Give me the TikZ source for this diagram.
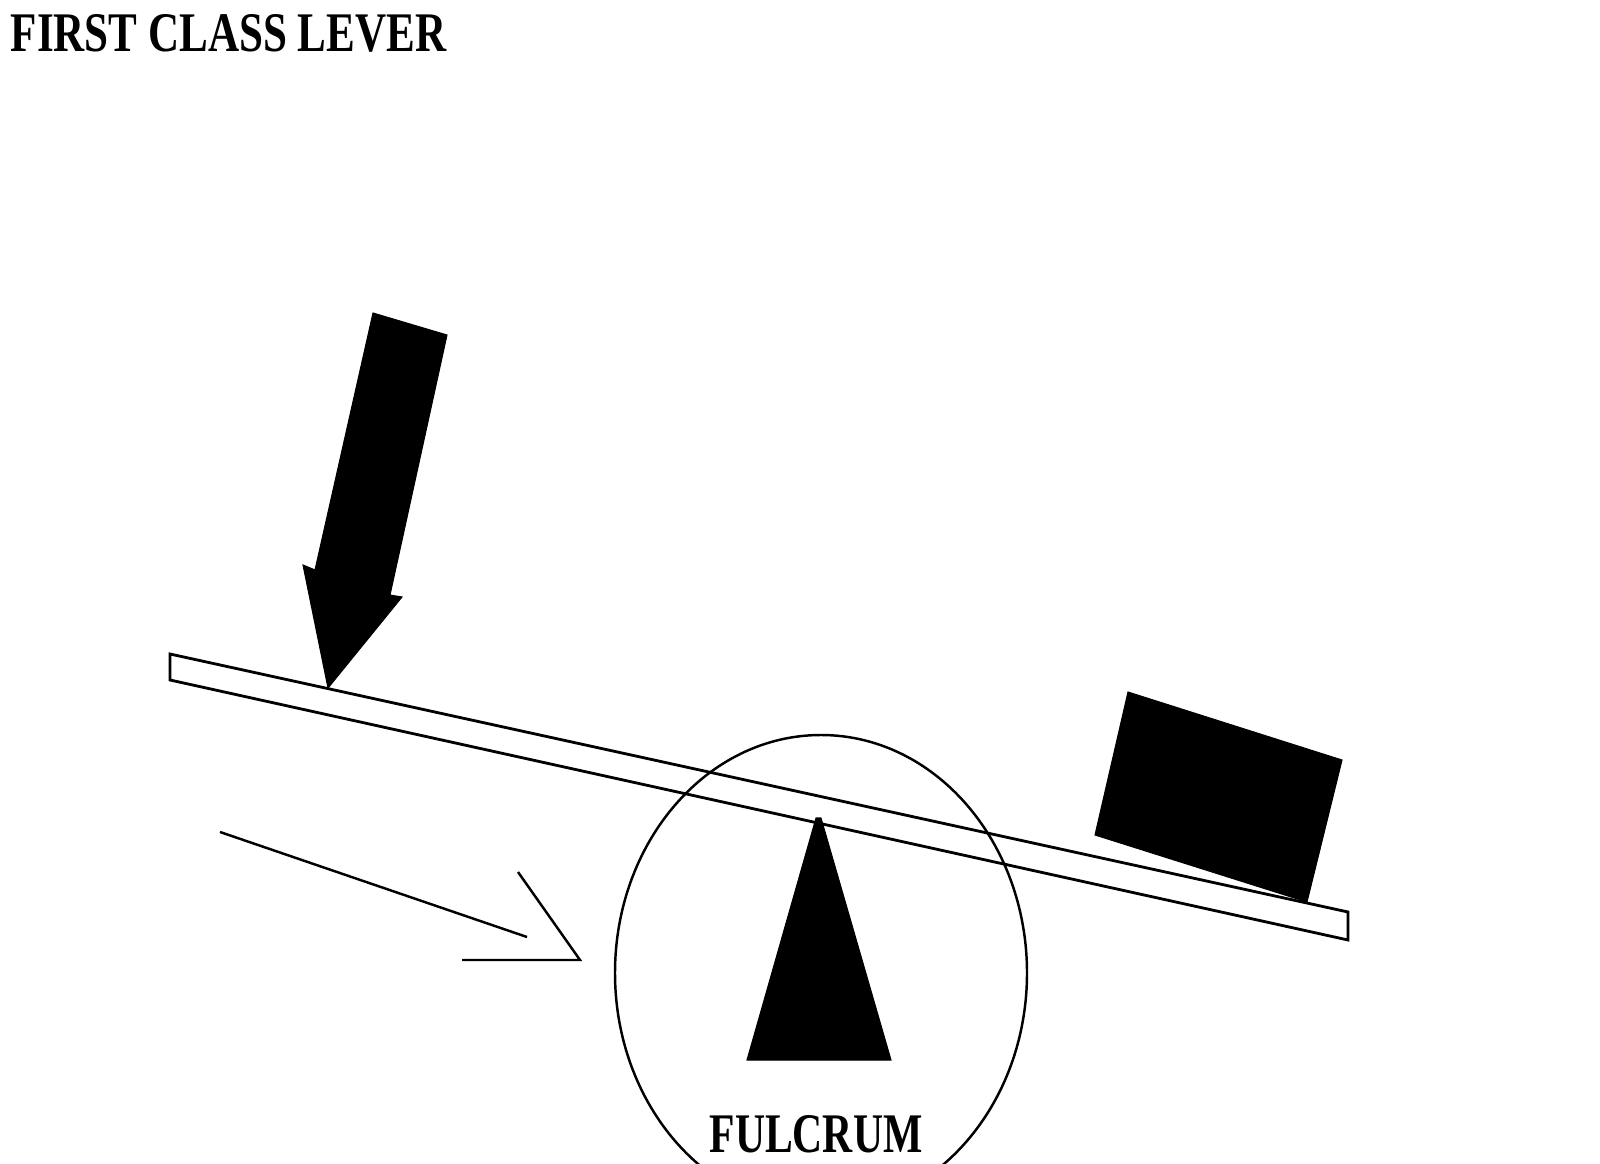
\documentclass[tikz,border=0pt]{standalone}
\usepackage{fontspec}
\setmainfont{Liberation Serif}
\begin{document}
\begin{tikzpicture}[x=0.01cm,y=-0.01cm,
  thinline/.style={line width=0.7pt,black},
  leverline/.style={line width=0.8pt,black},
  solidshape/.style={fill=black,draw=black,line width=0.3pt},
  label/.style={inner sep=0pt,font=\bfseries\fontsize{15.9pt}{18pt}\selectfont}]
\useasboundingbox (0,0) rectangle (1600,1164);
\begin{scope}
\clip (0,0) rectangle (1600,1164);
% title
\node[label,anchor=base west] (title) at (10,52) {\scalebox{0.77}[1]{FIRST CLASS LEVER}};
% effort arrow
\fill[solidshape] (373,313) -- (447,335) -- (390,595) -- (402,597) -- (328,688) -- (303,565) -- (315,570) -- cycle;
% lever
\draw[leverline] (170,654) -- (1348,912) -- (1348,940) -- (170,680) -- cycle;
% load
\fill[solidshape] (1128,692) -- (1342,760) -- (1307,902) -- (1095,835) -- cycle;
% fulcrum circle
\draw[thinline] (821,973) ellipse [x radius=206,y radius=238];
% fulcrum triangle
\fill[solidshape] (816,818) -- (821,818) -- (891,1060) -- (747,1060) -- cycle;
\node[label,anchor=base] (fulcrum) at (816,1152) {\scalebox{0.745}[1]{FULCRUM}};
% open arrow
\coordinate (a1) at (220,832);
\coordinate (a2) at (527,937);
\coordinate (b1) at (518,872);
\coordinate (b2) at (580,960);
\coordinate (b3) at (462,960);
\draw[thinline] (a1) -- (a2);
\draw[thinline] (b1) -- (b2) -- (b3);
\end{scope}
\end{tikzpicture}
\end{document}
